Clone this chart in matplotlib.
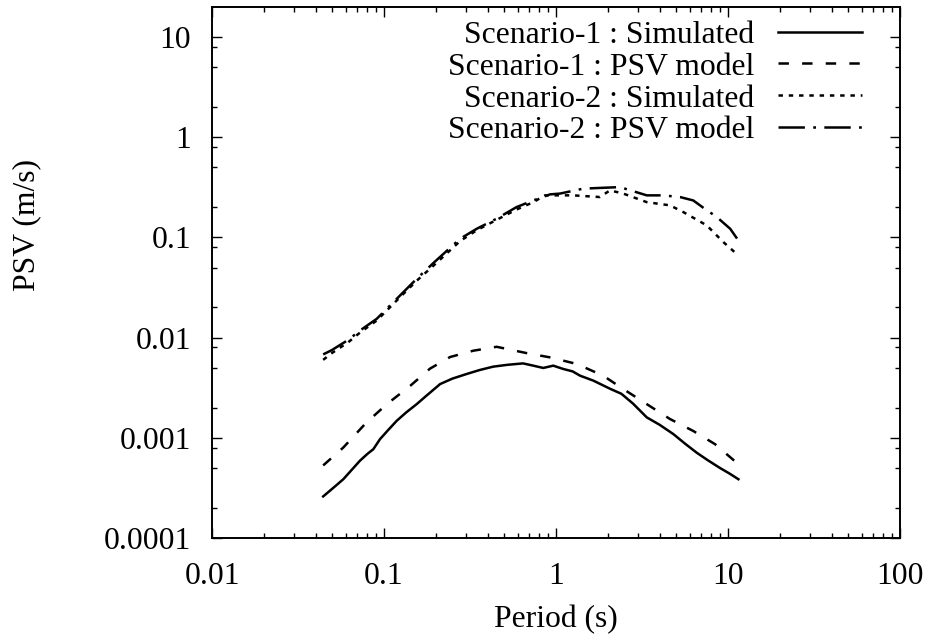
import matplotlib
matplotlib.use("Agg")
import matplotlib.pyplot as plt
from matplotlib.lines import Line2D
from matplotlib.ticker import FixedLocator, FixedFormatter, LogLocator, NullFormatter

plt.rcParams["font.family"] = ["Liberation Serif", "DejaVu Serif"]
plt.rcParams["lines.scale_dashes"] = False

# Scenario-1 : simulated pseudo-spectral velocity
s1_sim_T = [0.0443, 0.050, 0.058, 0.065, 0.0724, 0.080, 0.0867, 0.0948, 0.105, 0.1186,
            0.135, 0.155, 0.175, 0.212, 0.25, 0.303, 0.36, 0.431, 0.52, 0.643,
            0.738, 0.843, 0.964, 1.10, 1.25, 1.38, 1.65, 2.06, 2.4, 2.8,
            3.37, 4.0, 4.81, 5.6, 6.58, 7.6, 8.98, 10.2, 11.5]
s1_sim_v = [2.6e-4, 3.1e-4, 3.86e-4, 4.8e-4, 5.9e-4, 6.9e-4, 7.7e-4, 9.7e-4, 1.18e-3, 1.48e-3,
            1.8e-3, 2.17e-3, 2.6e-3, 3.44e-3, 3.9e-3, 4.34e-3, 4.75e-3, 5.13e-3, 5.35e-3, 5.53e-3,
            5.25e-3, 4.98e-3, 5.25e-3, 4.87e-3, 4.6e-3, 4.17e-3, 3.72e-3, 3.09e-3, 2.75e-3, 2.2e-3,
            1.6e-3, 1.35e-3, 1.09e-3, 8.8e-4, 7.1e-4, 6.0e-4, 5.0e-4, 4.4e-4, 3.86e-4]

# Scenario-1 : PSV model
s1_mod_T = [0.0443, 0.058, 0.079, 0.104, 0.142, 0.185, 0.242, 0.33, 0.452, 0.676,
            0.923, 1.32, 1.88, 2.46, 3.37, 4.6, 6.28, 8.4, 11.2]
s1_mod_v = [5.3e-4, 8.0e-4, 1.42e-3, 2.17e-3, 3.3e-3, 4.9e-3, 6.4e-3, 7.4e-3, 8.1e-3, 7.0e-3,
            6.35e-3, 5.46e-3, 4.17e-3, 3.07e-3, 2.17e-3, 1.54e-3, 1.17e-3, 8.65e-4, 5.66e-4]

# Scenario-2 : simulated
s2_sim_T = [0.0443, 0.0497, 0.062, 0.0724, 0.0907, 0.1186, 0.155, 0.198, 0.277, 0.346,
            0.452, 0.59, 0.738, 0.863, 1.26, 1.80, 2.06, 2.46, 3.37, 4.6,
            5.5, 7.52, 9.4, 11.2]
s2_sim_v = [6.0e-3, 7.0e-3, 9.0e-3, 0.0112, 0.0148, 0.0235, 0.037, 0.054, 0.092, 0.118,
            0.150, 0.19, 0.225, 0.263, 0.263, 0.253, 0.295, 0.274, 0.225, 0.209,
            0.179, 0.132, 0.0898, 0.0687]

# Scenario-2 : PSV model
s2_mod_T = [0.0443, 0.0497, 0.062, 0.0724, 0.0907, 0.1186, 0.155, 0.198, 0.277, 0.346,
            0.452, 0.590, 0.738, 0.923, 1.055, 1.44, 2.35, 3.37, 4.2, 5.26,
            6.28, 7.18, 8.6, 10.3, 11.5]
s2_mod_v = [6.8e-3, 7.5e-3, 9.5e-3, 0.01175, 0.0154, 0.0244, 0.0387, 0.0575, 0.097, 0.122,
            0.154, 0.201, 0.234, 0.269, 0.274, 0.307, 0.318, 0.263, 0.263, 0.253,
            0.234, 0.198, 0.160, 0.122, 0.093]

series_labels = ["Scenario-1 : Simulated", "Scenario-1 : PSV model",
                 "Scenario-2 : Simulated", "Scenario-2 : PSV model"]

x_ticks = [0.01, 0.1, 1, 10, 100]
x_tick_labels = ["0.01", "0.1", "1", "10", "100"]
y_ticks = [1e-4, 1e-3, 1e-2, 1e-1, 1, 10]
y_tick_labels = ["0.0001", "0.001", "0.01", "0.1", "1", "10"]

FS = 22.8
LW = 1.8
styles = [
    dict(linestyle="-"),
    dict(linestyle=(0, (7.5, 9.5))),
    dict(linestyle=(0, (3.2, 4.2))),
    dict(linestyle=(0, (19, 6, 2, 6))),
]

W, H = 932, 639
fig = plt.figure(figsize=(W / 100, H / 100), dpi=100)
ax = fig.add_axes([212 / W, 1 - 538 / H, 688 / W, 531 / H])

series = [(s1_sim_T, s1_sim_v), (s1_mod_T, s1_mod_v),
          (s2_sim_T, s2_sim_v), (s2_mod_T, s2_mod_v)]
for (T, v), st in zip(series, styles):
    ax.plot(T, v, color="black", lw=LW, **st)

ax.set_xscale("log")
ax.set_yscale("log")
ax.set_xlim(0.01, 100)
ax.set_ylim(1e-4, 10 ** 1.3)

ax.xaxis.set_major_locator(FixedLocator(x_ticks))
ax.xaxis.set_major_formatter(FixedFormatter(x_tick_labels))
ax.yaxis.set_major_locator(FixedLocator(y_ticks))
ax.yaxis.set_major_formatter(FixedFormatter(y_tick_labels))
ax.xaxis.set_minor_locator(LogLocator(base=10, subs=range(2, 10), numticks=20))
ax.yaxis.set_minor_locator(LogLocator(base=10, subs=[2, 5, 8], numticks=20))
ax.xaxis.set_minor_formatter(NullFormatter())
ax.yaxis.set_minor_formatter(NullFormatter())

ax.tick_params(which="both", direction="in", top=True, right=True, width=1.0)
ax.tick_params(which="major", length=7)
ax.tick_params(which="minor", length=3.6)
ax.tick_params(axis="x", which="major", pad=17, labelsize=FS)
ax.tick_params(axis="y", which="major", pad=15, labelsize=FS)
for sp in ax.spines.values():
    sp.set_linewidth(1.4)

ax.set_xlabel("Period (s)", fontsize=FS)
ax.xaxis.set_label_coords(0.5, (538 - 620) / 531)
ax.xaxis.label.set_va("center")
ax.set_ylabel("PSV (m/s)", fontsize=FS)
ax.yaxis.set_label_coords((27 - 212) / 688, (538 - 225) / 531)
ax.yaxis.label.set_va("center")

# key: right-aligned labels followed by line samples
text_x = (754 - 212) / 688
line_x0, line_x1 = (778 - 212) / 688, (862 - 212) / 688
text_base = [43, 75, 107, 138]
line_rows = [32, 63, 95, 127]
for lab, st, tb, ly in zip(series_labels, styles, text_base, line_rows):
    ax.text(text_x, (538 - tb) / 531, lab, transform=ax.transAxes,
            ha="right", va="baseline", fontsize=FS)
    yy = (538 - ly) / 531
    ax.add_line(Line2D([line_x0, line_x1], [yy, yy], transform=ax.transAxes,
                       color="black", lw=LW, clip_on=False, **st))

fig.savefig("out.png", dpi=100)
